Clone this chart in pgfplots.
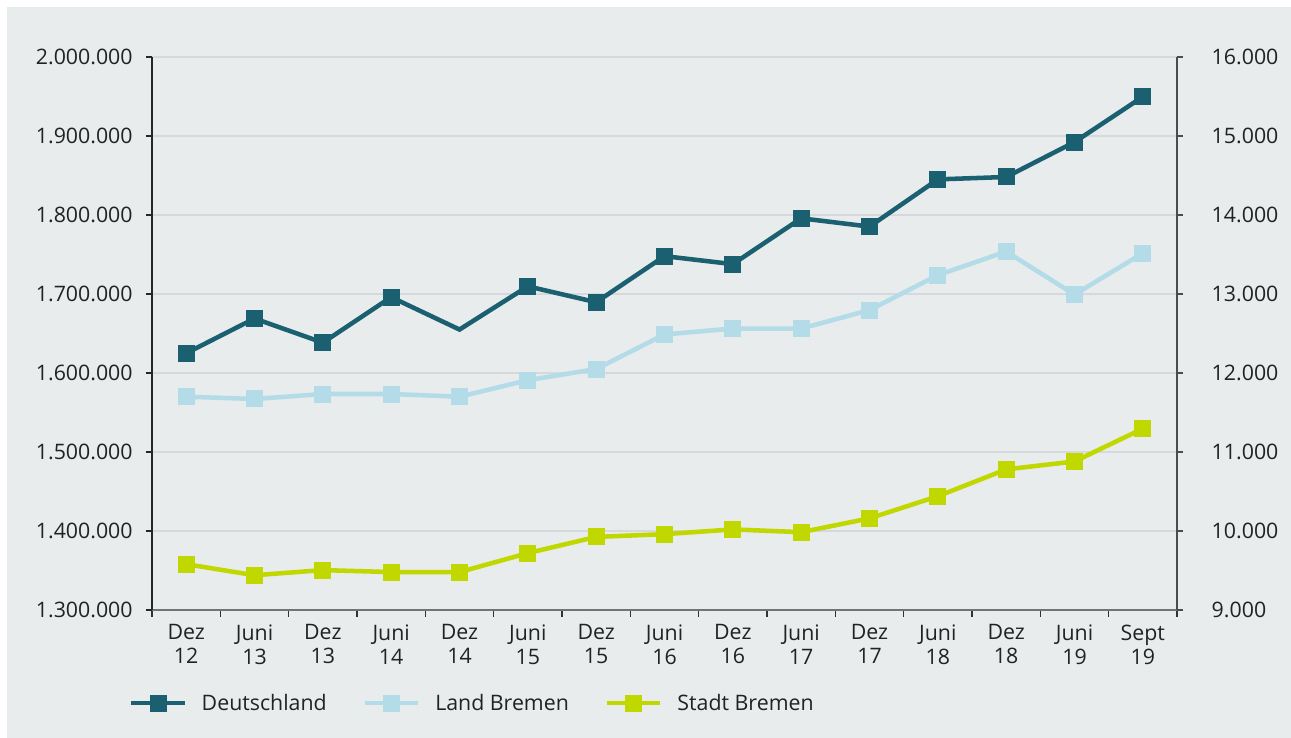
\documentclass[border=0pt]{standalone}
\usepackage{pgfplots}
\pgfplotsset{compat=1.18}
\usepackage{fontspec}
\setmainfont{Open Sans}
\definecolor{bgcol}{RGB}{232,236,237}
\definecolor{gridcol}{RGB}{214,217,219}
\definecolor{txt}{RGB}{34,34,34}
\definecolor{deu}{RGB}{27,96,112}
\definecolor{land}{RGB}{179,219,232}
\definecolor{stadt}{RGB}{192,215,0}
\newcommand{\lblfont}{\fontsize{16}{18}\selectfont}
\pgfplotsset{
  common/.style={
    scale only axis, width=768.75pt, height=414.75pt,
    xmin=-0.5, xmax=14.5,
    tick align=outside,
    major tick length=4.5pt, minor tick length=5pt,
    scaled y ticks=false,
    tick label style={font=\lblfont, text=txt},
    yticklabel style={/pgf/number format/1000 sep={.}, /pgf/number format/fixed, /pgf/number format/assume math mode=true},
  },
  ser/.style={color=#1, line width=3.4pt, mark=square*, mark size=6pt,
    mark options={fill=#1, draw=#1, line width=0pt}},
}
\pgfplotstableread{
x deu land stadt
0 1625000 11700 9580
1 1669000 11671 9440
2 1638400 11734 9505
3 1696000 11734 9480
4 1655000 11700 9480
5 1709700 11909 9720
6 1689600 12050 9925
7 1747900 12488 9960
8 1737800 12563 10020
9 1795800 12563 9985
10 1785300 12796 10160
11 1845100 13239 10440
12 1848100 13537 10780
13 1892300 12993 10880
14 1949700 13516 11296
}\datatable
\begin{document}
\begin{tikzpicture}
\path[use as bounding box] (-114pt,-96pt) rectangle (854.25pt,457.5pt);
\fill[white] (-114pt,-96pt) rectangle (854.25pt,457.5pt);
\fill[bgcol] (-108.75pt,-96pt) rectangle (854.25pt,452.25pt);
\begin{axis}[common,
  ymin=1300000, ymax=2000000,
  axis x line*=bottom, axis y line*=left,
  x axis line style={draw=black!55, line width=0.9pt},
  y axis line style={draw=black!85, line width=0.9pt},
  xtick={0,...,14},
  xticklabels={{Dez\\12},{Juni\\13},{Dez\\13},{Juni\\14},{Dez\\14},{Juni\\15},{Dez\\15},{Juni\\16},{Dez\\16},{Juni\\17},{Dez\\17},{Juni\\18},{Dez\\18},{Juni\\19},{Sept\\19}},
  xticklabel style={align=center, yshift=-3pt},
  yticklabel style={anchor=east, xshift=-6.5pt},
  major x tick style={draw=none},
  minor xtick={-0.5,0.5,...,14.5},
  minor x tick style={draw=black!80, line width=0.9pt},
  ytick={1300000,1400000,...,2000000},
  y tick style={draw=black!85, line width=0.9pt},
  ymajorgrids, grid style={gridcol, line width=1pt},
]
\addplot[ser=deu, mark indices={1,2,3,4,6,7,8,9,10,11,12,13,14,15}] table[x=x, y=deu] {\datatable};
\end{axis}
\begin{axis}[common,
  ymin=9000, ymax=16000,
  axis x line=none, axis y line*=right,
  y axis line style={draw=black!70, line width=0.9pt},
  ytick={9000,10000,...,16000},
  yticklabel style={anchor=west, xshift=18pt},
  y tick style={draw=black!70, line width=0.9pt},
  legend columns=3,
  legend style={at={(axis description cs:-0.0225,-0.1683)}, anchor=west,
    draw=none, fill=none, inner sep=0pt, font=\lblfont, text=txt,
    /tikz/every odd column/.append style={column sep=9pt},
    /tikz/every even column/.append style={column sep=25pt}},
  legend image code/.code={\draw[mark repeat=2,mark phase=2] plot coordinates {(0pt,0pt)(20pt,0pt)(40pt,0pt)};},
]
\addlegendimage{ser=deu}
\addlegendentry{Deutschland}
\addplot[ser=land] table[x=x, y=land] {\datatable};
\addlegendentry{Land Bremen}
\addplot[ser=stadt] table[x=x, y=stadt] {\datatable};
\addlegendentry{Stadt Bremen}
\end{axis}
\end{tikzpicture}
\end{document}
